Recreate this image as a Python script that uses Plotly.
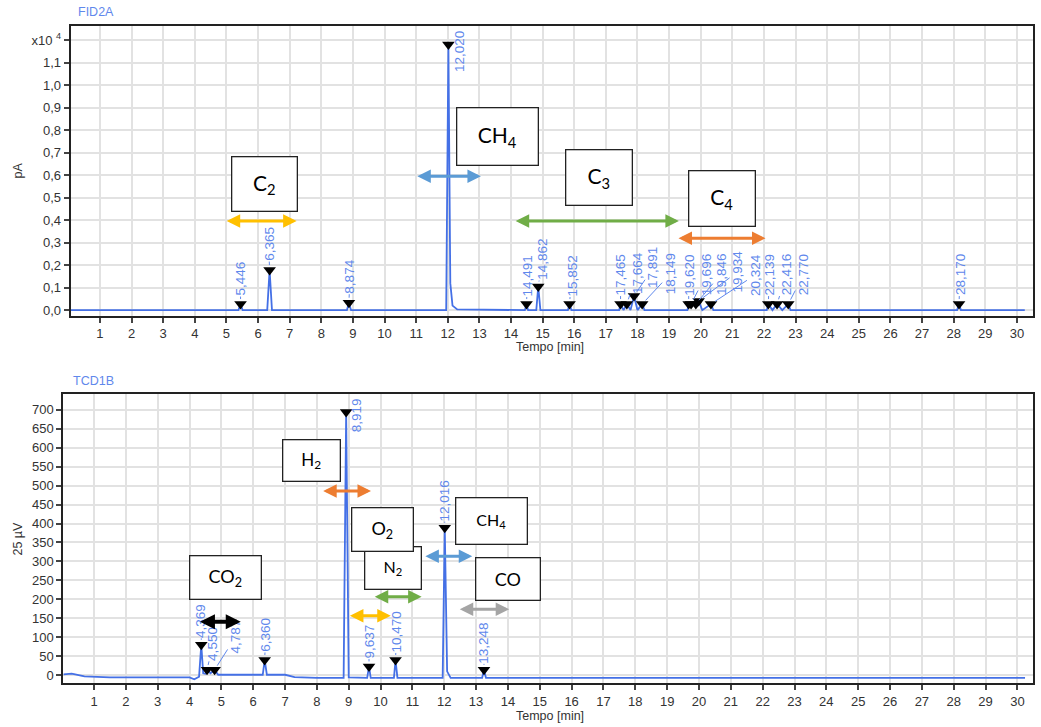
import plotly.graph_objects as go

# ---------------- DATA ----------------
# FID2A chromatogram (signal in x10^4 pA) vs time (min)
fid_time = [0.07, 5.38, 5.446, 5.51, 6.29, 6.365, 6.44, 8.81, 8.874, 8.94, 11.95, 12.020, 12.08, 12.15, 12.30,
            14.44, 14.491, 14.54, 14.80, 14.862, 14.93, 15.80, 15.852, 15.91, 17.42, 17.465, 17.56, 17.664, 17.78,
            17.891, 18.00, 18.149, 18.22, 19.58, 19.620, 19.696, 19.846, 19.934, 20.05, 20.324, 20.40, 22.09,
            22.139, 22.27, 22.416, 22.58, 22.770, 22.84, 28.11, 28.170, 28.23, 30.25]
fid_signal = [0, 0, 0.027, 0, 0, 0.178, 0, 0, 0.033, 0, 0, 1.18, 0.12, 0.02, 0.003,
              0, 0.027, 0, 0, 0.105, 0, 0, 0.027, 0, 0, 0.027, 0, 0.027, 0,
              0.063, 0, 0.027, 0, 0, 0.027, 0.027, 0.027, 0.041, 0, 0.027, 0, 0,
              0.027, 0, 0.027, 0, 0.027, 0, 0, 0.027, 0, 0]
fid_rt = [5.446, 6.365, 8.874, 12.020, 14.491, 14.862, 15.852, 17.465, 17.664, 17.891, 18.149,
          19.620, 19.696, 19.846, 19.934, 20.324, 22.139, 22.416, 22.770, 28.170]
fid_height = [0.027, 0.178, 0.033, 1.18, 0.027, 0.105, 0.027, 0.027, 0.027, 0.063, 0.027,
              0.027, 0.027, 0.027, 0.041, 0.027, 0.027, 0.027, 0.027, 0.027]
fid_labels = ["5,446", "6,365", "8,874", "12,020", "14,491", "14,862", "15,852", "17,465", "17,664", "17,891",
              "18,149", "19,620", "19,696", "19,846", "19,934", "20,324", "22,139", "22,416", "22,770", "28,170"]

# TCD1B chromatogram (signal in 25 µV) vs time (min)
tcd_time = [0.04, 0.30, 0.70, 1.50, 4.00, 4.15, 4.30, 4.369, 4.43, 4.50, 4.550, 4.66, 4.787, 4.90, 6.30, 6.360,
            6.43, 7.00, 7.30, 8.00, 8.84, 8.919, 9.00, 9.58, 9.637, 9.69, 10.42, 10.470, 10.53, 11.95, 12.016,
            12.09, 12.20, 13.19, 13.248, 13.31, 30.24]
tcd_signal = [2, 4, -3, -6, -6, -11, -4, 80, 5, 4, 14, 5, 14, 1, 1, 40,
              1, 1, -5, -7, -7, 694, -6, -7, 23, -7, -7, 40, -7, -7, 389,
              10, -7, -7, 14, -7, -7]
tcd_rt = [4.369, 4.550, 4.787, 6.360, 8.919, 9.637, 10.470, 12.016, 13.248]
tcd_height = [80, 14, 14, 40, 694, 23, 40, 389, 14]
tcd_labels = ["4,369", "4,550", "4,787", "6,360", "8,919", "9,637", "10,470", "12,016", "13,248"]

fid_yticks = [0, 0.1, 0.2, 0.3, 0.4, 0.5, 0.6, 0.7, 0.8, 0.9, 1.0, 1.1, 1.2]
fid_yticktext = ["0,0", "0,1", "0,2", "0,3", "0,4", "0,5", "0,6", "0,7", "0,8", "0,9", "1,0", "1,1", "x10 <sup>4</sup>"]
tcd_yticks = list(range(0, 701, 50))
x_ticks = list(range(1, 31))

# compound groups: (label, x-range start, x-range end, level)
fid_groups = [("C<sub>2</sub>", 4.96, 7.22, 0.396), ("CH<sub>4</sub>", 10.99, 13.05, 0.595),
              ("C<sub>3</sub>", 14.10, 19.31, 0.396), ("C<sub>4</sub>", 19.25, 22.05, 0.319)]
tcd_groups = [("CO<sub>2</sub>", 4.28, 5.61, 141), ("H<sub>2</sub>", 8.15, 9.70, 486),
              ("N<sub>2</sub>", 9.77, 11.29, 207), ("O<sub>2</sub>", 8.99, 10.32, 157),
              ("CH<sub>4</sub>", 11.36, 12.88, 314), ("CO", 12.44, 14.04, 174)]

# ---------------- STYLE / LAYOUT ----------------
LINE = "#4470e6"
LABEL = "#5f88ec"
GRID = "#e2e2e2"
FRAME = "#222222"
TICKC = "#333333"
BOXFONT = "Lato"

# label offsets (px) relative to marker
fid_lab_off = [(0, -25), (-1, -26), (1, -26), (11, 7), (1, -28), (4, -27), (2, -28), (0, -29), (10, -31),
               (19, -28), (28, -30), (0, -29), (15, -29), (25, -30), (39, -29), (44, -29), (1, -29),
               (9, -29), (15, -29), (1, -29)]
tcd_lab_off = [(0, -24), (6, -26), (21, -33), (1, -25), (10, 3), (0, -25), (1, -28), (0, -27), (0, -27)]

# box positions: (center x, center y, width px, height px, font size)
fid_boxes = [(6.21, 0.562, 64, 53, 21), (13.56, 0.773, 80, 56, 21), (16.77, 0.589, 65, 54, 21),
             (20.66, 0.498, 65, 54, 21)]
tcd_boxes = [(5.14, 257, 70, 42, 18), (7.82, 567, 56, 40, 17), (10.38, 284, 55, 41, 16),
             (10.05, 383, 60, 42, 18), (13.49, 406, 70, 45, 16), (14.01, 255, 63, 41, 18)]
fid_arrow_colors = ["#ffc000", "#5b9bd5", "#70ad47", "#ed7d31"]
tcd_arrow_colors = ["#000000", "#ed7d31", "#70ad47", "#ffc000", "#5b9bd5", "#a5a5a5"]

W, H = 1041, 727

fig = go.Figure()
fig.add_trace(go.Scatter(x=fid_time, y=fid_signal, mode="lines", line=dict(color=LINE, width=1.8),
                         xaxis="x", yaxis="y", hoverinfo="skip"))
fig.add_trace(go.Scatter(x=fid_rt, y=fid_height, mode="markers",
                         marker=dict(symbol="triangle-down", size=11, color="black"),
                         xaxis="x", yaxis="y"))
fig.add_trace(go.Scatter(x=tcd_time, y=tcd_signal, mode="lines", line=dict(color=LINE, width=1.8),
                         xaxis="x2", yaxis="y2", hoverinfo="skip"))
fig.add_trace(go.Scatter(x=tcd_rt, y=tcd_height, mode="markers",
                         marker=dict(symbol="triangle-down", size=11, color="black"),
                         xaxis="x2", yaxis="y2"))

common_x = dict(tickvals=x_ticks, ticks="outside", ticklen=5, tickwidth=1.5, tickcolor="#444",
                showline=True, mirror=True, linecolor=FRAME, linewidth=2, showgrid=True,
                gridcolor=GRID, gridwidth=1.5, zeroline=False,
                tickfont=dict(family="Liberation Sans", size=13, color=TICKC))
common_y = dict(ticks="outside", ticklen=5, tickwidth=1.5, tickcolor="#444",
                showline=True, mirror=True, linecolor=FRAME, linewidth=2, showgrid=True,
                gridcolor=GRID, gridwidth=1.5, zeroline=False,
                tickfont=dict(family="Liberation Sans", size=13, color=TICKC))

fig.update_layout(
    width=W, height=H, margin=dict(l=0, r=0, t=0, b=0),
    paper_bgcolor="white", plot_bgcolor="white", showlegend=False,
    xaxis=dict(domain=[70.7 / W, 1033 / W], range=[0.074, 30.51], anchor="y", **common_x),
    yaxis=dict(domain=[1 - 316.7 / H, 1 - 26 / H], range=[-0.0253, 1.263], anchor="x",
               tickvals=fid_yticks, ticktext=fid_yticktext, **common_y),
    xaxis2=dict(domain=[63.3 / W, 1033 / W], range=[0.036, 30.49], anchor="y2", **common_x),
    yaxis2=dict(domain=[1 - 685 / H, 1 - 395 / H], range=[-21, 742], anchor="x2",
                tickvals=tcd_yticks, **common_y),
)

ann = []
# titles
txtfont = dict(family="Liberation Sans", size=12.5, color=TICKC)
def paper_text(text, px, py, font, angle=0):
    ann.append(dict(text=text, x=px / W, y=1 - py / H, xref="paper", yref="paper", showarrow=False,
                    xanchor="center", yanchor="middle", textangle=angle, font=font))

blue_title = dict(family="Liberation Sans", size=12.5, color=LABEL)
paper_text("FID2A", 96, 12, blue_title)
paper_text("TCD1B", 93, 382, blue_title)
paper_text("pA", 18, 171, txtfont, -90)
paper_text("25 µV", 18, 540, txtfont, -90)
paper_text("Tempo [min]", 550, 348, txtfont)
paper_text("Tempo [min]", 550, 718, txtfont)

# peak labels
def add_labels(rts, hs, labs, offs, xr, yr):
    for t, h, lab, (dx, dy) in zip(rts, hs, labs, offs):
        ann.append(dict(text=lab, x=t, y=h, xref=xr, yref=yr, showarrow=True, arrowhead=0,
                        arrowwidth=1, arrowcolor=LABEL, ax=dx, ay=dy, standoff=5, textangle=-90,
                        borderpad=0,
                        font=dict(family="Liberation Sans", size=13.5, color=LABEL)))

add_labels(fid_rt, fid_height, fid_labels, fid_lab_off, "x", "y")
add_labels(tcd_rt, tcd_height, tcd_labels, tcd_lab_off, "x2", "y2")

# double arrows and boxes
def add_groups(groups, boxes, colors, xr, yr):
    for (lab, x0, x1, lvl), col in zip(groups, colors):
        wdt = 4 if col == "#000000" else 3
        sz = 0.75 if col == "#000000" else 0.9
        ann.append(dict(text="", x=x1, y=lvl, ax=x0, ay=lvl, xref=xr, yref=yr, axref=xr, ayref=yr,
                        showarrow=True, arrowside="end+start", arrowhead=2, startarrowhead=2,
                        arrowsize=sz, startarrowsize=sz, arrowwidth=wdt, arrowcolor=col))
    for (lab, x0, x1, lvl), (cx, cy, bw, bh, fs) in zip(groups, boxes):
        ann.append(dict(text=lab, x=cx, y=cy, xref=xr, yref=yr, showarrow=False,
                        width=bw, height=bh, bgcolor="white", bordercolor=FRAME, borderwidth=1.3,
                        borderpad=0, xanchor="center", yanchor="middle", align="center", valign="middle",
                        font=dict(family=BOXFONT, size=fs, color="black")))

add_groups(fid_groups, fid_boxes, fid_arrow_colors, "x", "y")
add_groups(tcd_groups, tcd_boxes, tcd_arrow_colors, "x2", "y2")

fig.update_layout(annotations=ann)
fig.write_html("out.html")
